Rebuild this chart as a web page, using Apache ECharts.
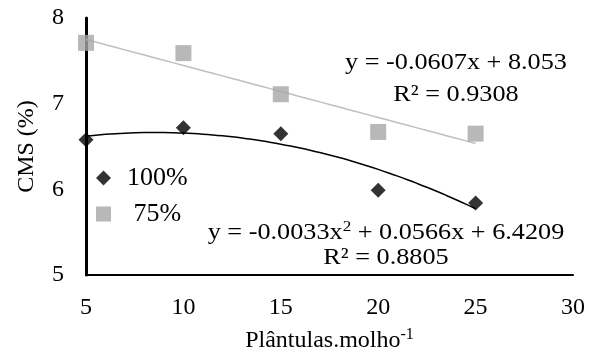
<!DOCTYPE html>
<html><head><meta charset="utf-8">
<script src="https://cdn.jsdelivr.net/npm/echarts@6/dist/echarts.min.js"></script>
<style>html,body{margin:0;padding:0;background:#fff;overflow:hidden}#c{width:589px;height:352px}</style>
</head><body><div id="c"></div>
<script>
const xValues = [5, 10, 15, 20, 25];
const series100 = [6.58, 6.72, 6.65, 5.99, 5.84];
const series75 = [7.71, 7.59, 7.11, 6.67, 6.65];
const seriesNames = ['100%', '75%'];
const xTicks = [5, 10, 15, 20, 25, 30];
const yTicks = [5, 6, 7, 8];
// trendline coefficients as printed on the chart
const linCoef = [8.053, -0.0607];            // c0 + c1 x
const quadCoef = [6.4209, 0.0566, -0.0033];  // c0 + c1 x + c2 x^2
const linR2 = '0.9308';
const quadR2 = '0.8805';

const FONT = "'Liberation Serif','Times New Roman',serif";
function trend(coef){
  const pts = [];
  const x0 = xValues[0], x1 = xValues[xValues.length-1];
  for (let i = 0; i <= 40; i++) {
    const x = x0 + (x1 - x0) * i / 40;
    let y = 0;
    coef.forEach((c, k) => { y += c * Math.pow(x, k); });
    pts.push([x, y]);
  }
  return pts;
}

const chart = echarts.init(document.getElementById('c'), null, {renderer:'canvas'});
chart.setOption({
  animation: false,
  backgroundColor: '#fff',
  grid: {left: 86, right: 16, top: 18, bottom: 77, outerBoundsMode: 'none', containLabel: false},
  xAxis: {
    type: 'value', min: xTicks[0], max: xTicks[xTicks.length-1], interval: 5,
    axisLine: {lineStyle: {color: '#000', width: 2}},
    axisTick: {show: false}, splitLine: {show: false},
    axisLabel: {color: '#000', fontFamily: FONT, fontSize: 24, margin: 21},
    name: '{t|Plântulas.molho}{s|-1}', nameLocation: 'middle', nameGap: 52,
    nameTextStyle: {rich: {
      t: {fontFamily: FONT, fontSize: 24, color: '#000', verticalAlign: 'bottom'},
      s: {fontFamily: FONT, fontSize: 16, color: '#000', verticalAlign: 'top', padding: [0,0,10,0]}
    }}
  },
  yAxis: {
    type: 'value', min: yTicks[0], max: yTicks[yTicks.length-1], interval: 1,
    axisLine: {show: true, lineStyle: {color: '#000', width: 3}},
    axisTick: {show: false}, splitLine: {show: false},
    axisLabel: {color: '#000', fontFamily: FONT, fontSize: 24, margin: 22},
    name: 'CMS (%)', nameLocation: 'middle', nameGap: 47,
    nameTextStyle: {color: '#000', fontFamily: FONT, fontSize: 24}
  },
  legend: {
    orient: 'vertical', left: 96, top: 165, padding: 0, itemGap: 10, itemWidth: 15, itemHeight: 15,
    data: [{name: seriesNames[0], icon: 'diamond'}, {name: seriesNames[1], icon: 'rect'}],
    formatter: n => n === seriesNames[1] ? ' ' + n : n,
    textStyle: {color: '#000', fontFamily: FONT, fontSize: 26, padding: [0,0,0,11]}
  },
  series: [
    {name: seriesNames[1] + ' trend', type: 'line', data: trend(linCoef), showSymbol: false,
     lineStyle: {color: '#bfbfbf', width: 1.5}, z: 1, silent: true},
    {name: seriesNames[0] + ' trend', type: 'line', data: trend(quadCoef), showSymbol: false, smooth: true,
     lineStyle: {color: '#000', width: 1.5}, z: 1, silent: true},
    {name: seriesNames[1], type: 'scatter', symbol: 'rect', symbolSize: 16,
     itemStyle: {color: '#a6a6a6'}, data: xValues.map((x,i)=>[x, series75[i]]), z: 3},
    {name: seriesNames[0], type: 'scatter', symbol: 'diamond', symbolSize: 15,
     itemStyle: {color: '#000'}, data: xValues.map((x,i)=>[x, series100[i]]), z: 4}
  ],
  graphic: [
    {type: 'text', x: 456, y: 63, scaleX: 1.14, style: {
      text: 'y = ' + linCoef[1] + 'x + ' + linCoef[0].toFixed(3), font: '23px ' + FONT, fill: '#000',
      align: 'center', verticalAlign: 'middle'}},
    {type: 'text', x: 456, y: 95, scaleX: 1.14, style: {
      text: 'R² = ' + linR2, font: '23px ' + FONT, fill: '#000',
      align: 'center', verticalAlign: 'middle'}},
    {type: 'text', x: 386, y: 232, scaleX: 1.14, style: {
      text: '{a|y = ' + quadCoef[2] + 'x}{s|2}{a| + ' + quadCoef[1] + 'x + ' + quadCoef[0] + '}',
      rich: {a: {fontSize: 23, fontFamily: FONT, fill: '#000', verticalAlign: 'bottom'},
             s: {fontSize: 15, fontFamily: FONT, fill: '#000', verticalAlign: 'top', padding: [0,0,10,0]}},
      align: 'center', verticalAlign: 'middle'}},
    {type: 'text', x: 386, y: 258, scaleX: 1.14, style: {
      text: 'R² = ' + quadR2, font: '23px ' + FONT, fill: '#000',
      align: 'center', verticalAlign: 'middle'}}
  ]
});
</script></body></html>
